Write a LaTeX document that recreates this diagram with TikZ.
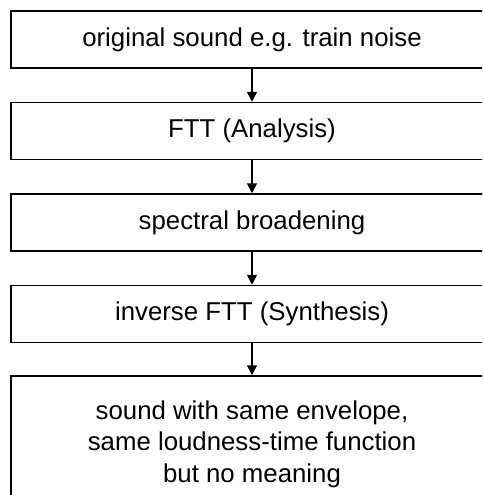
\documentclass[tikz,border=0pt]{standalone}
\usepackage{fontspec}
\setmainfont{Liberation Sans}
\usepackage{tikz}
\usetikzlibrary{positioning,arrows.meta}

\begin{document}
\begin{tikzpicture}[x=1pt, y=1pt,
    procbox/.style={draw, rectangle, line width=1.5pt, minimum width=482pt, minimum height=57pt, align=center, inner sep=0pt, font=\fontsize{25.8}{31.5}\selectfont},
    flow/.style={-{Triangle[length=10pt,width=10pt]}, line width=1.5pt}]
    \clip (0,0) rectangle (482,-495);
    \node[procbox] (orig) at (252,-39.5) {original sound e.g. train noise};
    \node[procbox, below=33pt of orig] (analysis) {FTT (Analysis)};
    \node[procbox, below=33pt of analysis] (broad) {spectral broadening};
    \node[procbox, below=33pt of broad] (synth) {inverse FTT (Synthesis)};
    \node[procbox, minimum height=136pt, below=32pt of synth] (result) {sound with same envelope,\\same loudness-time function\\but no meaning};

    \draw[flow] (orig) -- (analysis);
    \draw[flow] (analysis) -- (broad);
    \draw[flow] (broad) -- (synth);
    \draw[flow] (synth) -- (result);
\end{tikzpicture}
\end{document}
